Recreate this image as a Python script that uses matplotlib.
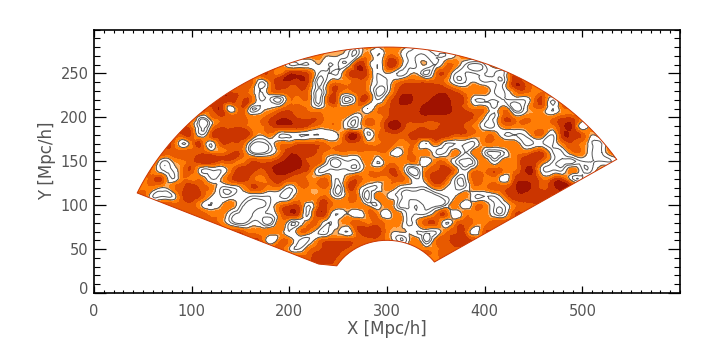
import numpy as np
import matplotlib
matplotlib.use("Agg")
import matplotlib.pyplot as plt
import matplotlib.tri as mtri
from matplotlib.path import Path
from matplotlib.patches import PathPatch
from matplotlib.transforms import ScaledTranslation

plt.rcParams['font.family'] = ['DejaVu Sans']

x_label = "X [Mpc/h]"
y_label = "Y [Mpc/h]"
x_ticks = [0, 100, 200, 300, 400, 500]
y_ticks = [0, 50, 100, 150, 200, 250]
grid_x = list(range(40, 550, 10))
grid_y = list(range(280, 10, -10))
fill_levels = [-5, 2.0, 2.55, 3.4, 4.3, 5.45, 12]
fill_colors = ['#ffffff', '#ffae5c', '#ff7d05', '#e85a00', '#cb3500', '#a01200']
line_levels = [0.35, 1.0, 2.0]

# density digits, one row per grid_y, read by eye; blocks of ten columns
density_rows = [
 "3333333333 3333333333 3331323321 1333333333 3333333333 3",
 "3333333333 3333333333 2211313311 1112333333 3333333333 3",
 "3333333333 3333331112 1115314411 2133101333 3333333333 3",
 "3333333333 3334435541 1145412112 0341111114 3333333333 3",
 "3333333333 3341355540 2334311344 4431121115 4333333333 3",
 "3333333335 4431344430 3434301455 5554333113 4333333333 3",
 "3333333355 5441103330 4303413565 5665411111 1341433333 3",
 "3333333545 1411234432 3333134555 6665433130 1331333333 3",
 "3333334134 4433455444 3321334555 5555542143 3333443333 3",
 "3333343024 4433455543 3311335644 4455431133 3333551333 3",
 "3333444145 5542311111 1255134445 5554433311 1331554233 3",
 "3334413414 4410133444 3344334333 1311113333 1111343113 3",
 "3344444433 4410135554 3333333133 3113131013 3441133113 3",
 "3441234554 4344456644 1011313333 1331013133 5531001111 3",
 "3431134111 3554566541 1111334410 3453133433 5511131133 3",
 "3344133312 4543454433 3134333431 3541143314 5534411333 3",
 "3332345431 1244331333 3043113211 1321133445 6545653333 3",
 "3411145421 1211111333 3133032100 0012311135 5554433333 3",
 "3334444212 3100134414 4333213101 0013133113 4443333333 3",
 "3333344433 1001135415 3121331311 1341333114 4333333333 3",
 "3333333443 1011031133 1234343312 4413433444 3333333333 3",
 "3333333334 4433331331 1214553221 1134414444 3333333333 3",
 "3333333333 3444133113 4444443113 0345544444 3333333333 3",
 "3333333333 3334442134 5544433333 3344444444 3333333333 3",
 "3333333333 3333334445 5433333333 3344444444 3333333333 3",
 "3333333333 3333333444 4433333333 3333333333 3333333333 3",
 "3333333333 3333333344 4433333333 3333333333 3333333333 3",
]

density = np.array([[int(c) for c in row.replace(" ", "")] for row in density_rows], dtype=float)
X, Y = np.meshgrid(grid_x, grid_y)

fig = plt.figure(figsize=(7.06, 3.53), dpi=100)
ax = fig.add_axes([94/706, (353-293)/353, (680-94)/706, (293-29.5)/353])
ax.set_xlim(0, 600)
ax.set_ylim(0, 300)

# wedge outline: survey slice, centre (300, 0), radii 60 and 280
t_out = np.radians(np.linspace(32.9, 156.0, 160))
t_in = np.radians(np.linspace(149.0, 36.0, 50))
verts = np.vstack([
    np.c_[300 + 280*np.cos(t_out), 280*np.sin(t_out)],
    [[230, 33]],
    np.c_[300 + 60*np.cos(t_in), 60*np.sin(t_in)],
    [[300 + 280*np.cos(t_out[0]), 280*np.sin(t_out[0])]],
])
clip = PathPatch(Path(verts, closed=False), transform=ax.transData, fc='none', ec='none')
ax.add_patch(clip)

tri = mtri.Triangulation(X.ravel(), Y.ravel())
refiner = mtri.UniformTriRefiner(tri)
tri_f, z_f = refiner.refine_field(density.ravel(), subdiv=2)

cf = ax.tricontourf(tri_f, z_f, levels=fill_levels, colors=fill_colors)
cs = ax.tricontour(tri_f, z_f, levels=line_levels, colors='#555555', linewidths=0.7)
cf.set_clip_path(clip)
cs.set_clip_path(clip)
ax.plot(verts[:, 0], verts[:, 1], color='#cb3500', lw=0.7, zorder=3)

ax.set_xticks(x_ticks)
ax.set_yticks(y_ticks)
ax.set_xticks(np.arange(0, 601, 10), minor=True)
ax.set_yticks(np.arange(0, 301, 10), minor=True)
ax.tick_params(axis='x', which='major', direction='in', top=True, bottom=True, length=5, width=0.9,
               labelsize=10.5, labelcolor='#555555', pad=8)
ax.tick_params(axis='x', which='minor', direction='in', top=True, bottom=True, length=2.3, width=0.8)
ax.tick_params(axis='y', which='major', direction='in', left=True, right=True, length=8.5, width=0.9,
               labelsize=10.5, labelcolor='#555555', pad=4)
ax.tick_params(axis='y', which='minor', direction='in', left=True, right=True, length=4.3, width=0.8)
for s in ax.spines.values():
    s.set_linewidth(1.2)
ax.set_xlabel(x_label, fontsize=12, color='#555555', labelpad=1)
ax.set_ylabel(y_label, fontsize=12, color='#555555', labelpad=3)

zero = ax.get_yticklabels()[0]
zero.set_transform(zero.get_transform() + ScaledTranslation(0, 5/100, fig.dpi_scale_trans))

fig.savefig("out.png", dpi=100)
